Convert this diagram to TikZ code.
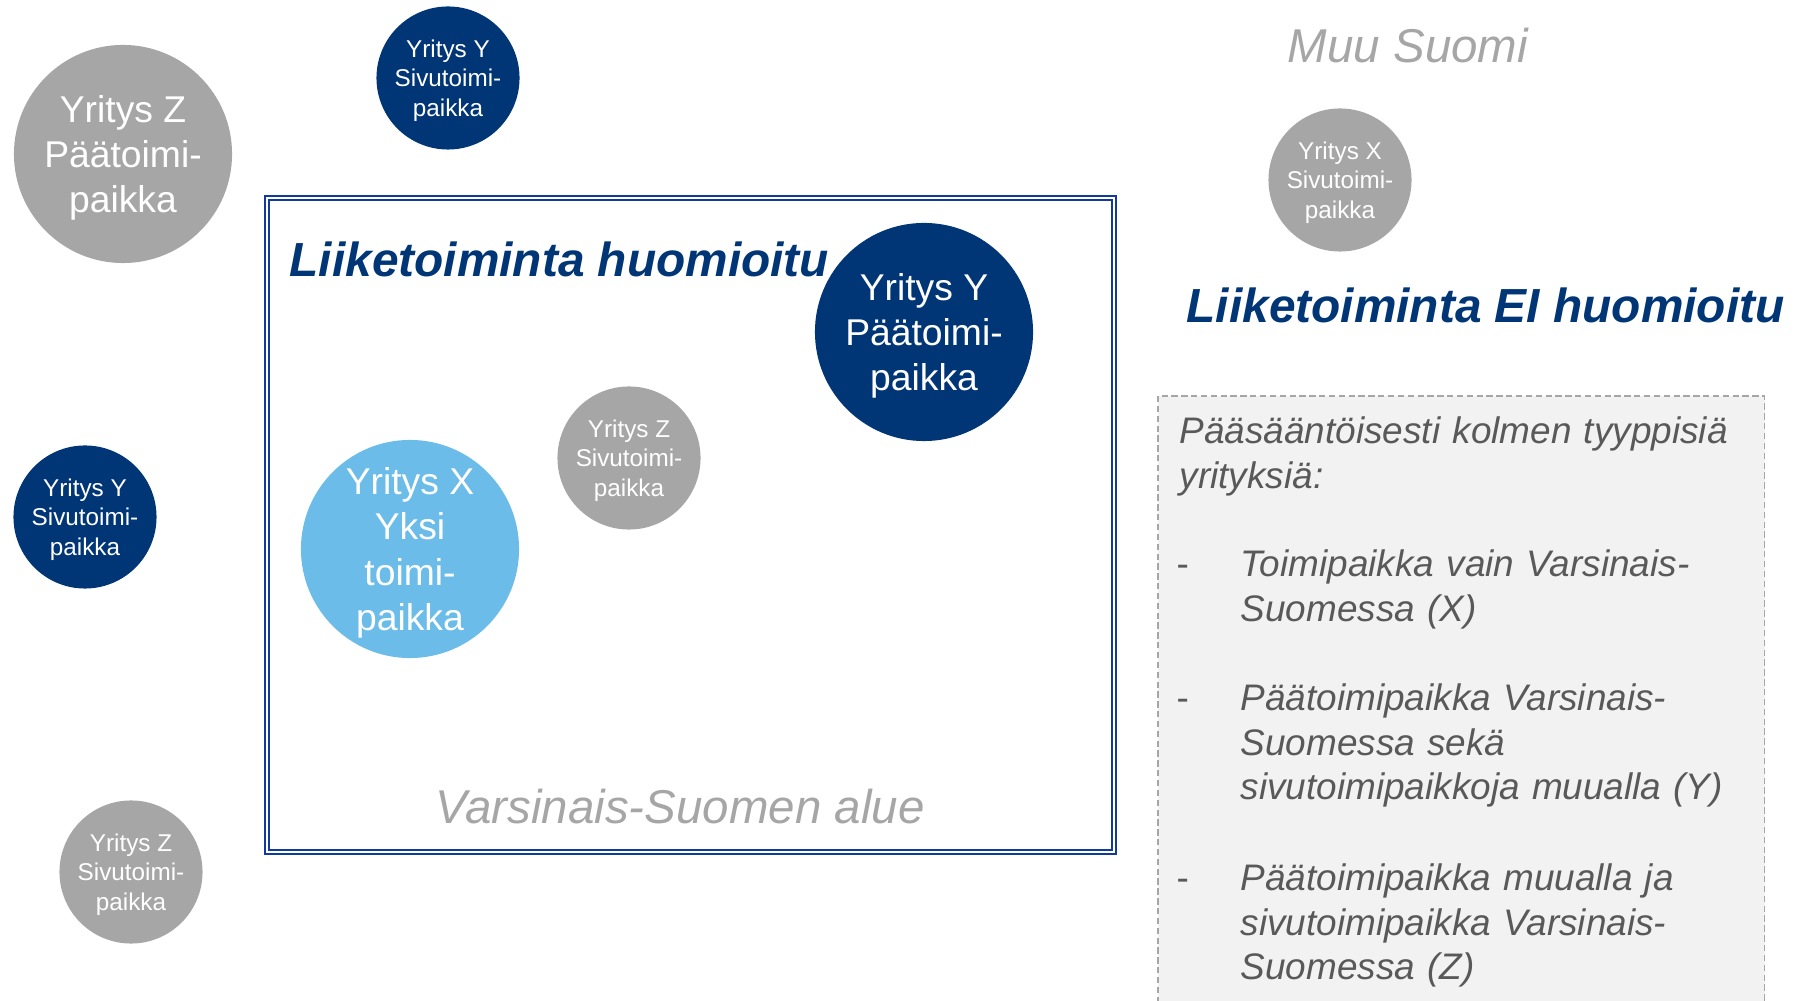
\documentclass[tikz,border=0pt]{standalone}
\usepackage{fontspec}
\setmainfont{Liberation Sans}

\begin{document}
\begin{tikzpicture}[x=0.01cm,y=-0.01cm,
    bigspot/.style={shape=circle,minimum size=2.18cm,inner sep=0pt,align=center,text depth=0pt,text=white,font=\fontsize{10.6}{12.8}\selectfont},
    smallspot/.style={shape=circle,minimum size=1.43cm,inner sep=0pt,align=center,text depth=0pt,text=white,font=\fontsize{6.9}{8.4}\selectfont},
    headline/.style={anchor=base west,inner sep=0pt,text=vs_navy,font=\fontsize{13.6}{16}\selectfont\bfseries\itshape},
    regionlabel/.style={anchor=base,inner sep=0pt,text=vs_grey,font=\fontsize{13.5}{16}\selectfont\itshape},
    notetext/.style={anchor=base west,inner sep=0pt,align=left,text width=5.9cm,text=vs_notetext,font=\fontsize{10.5}{12.6}\selectfont\itshape},
    notedash/.style={anchor=base west,inner sep=0pt,text=vs_notetext,font=\fontsize{10.5}{12.6}\selectfont}]
    \definecolor{vs_navy}{RGB}{0,53,118}
    \definecolor{vs_light}{RGB}{108,188,234}
    \definecolor{vs_grey}{RGB}{166,166,166}
    \definecolor{vs_frame}{RGB}{16,58,160}
    \definecolor{vs_note}{RGB}{242,242,242}
    \definecolor{vs_notetext}{RGB}{89,89,89}
    \useasboundingbox (0,0) rectangle (1800,1001);
    \clip (0,0) rectangle (1800,1001);

    % the region of Varsinais-Suomi
    \node[shape=rectangle,draw=vs_frame,line width=0.5pt,double=white,double distance=0.65pt,minimum width=8.465cm,minimum height=6.535cm] (area) at (690.25,525.25) {};
    \node[headline] (inTitle) at (289,277) {Liiketoiminta huomioitu};
    \node[regionlabel] (areaName) at (680,824) {Varsinais-Suomen alue};

    % rest of Finland
    \node[regionlabel] (restName) at (1408,63) {Muu Suomi};
    \node[headline] (outTitle) at (1186,323) {Liiketoiminta EI huomioitu};

    % companies
    \node[bigspot,fill=vs_grey]    (zMain)     at (123,154)  {Yritys Z\\Päätoimi-\\paikka};
    \node[smallspot,fill=vs_navy]  (ySideTop)  at (448,78)   {Yritys Y\\Sivutoimi-\\paikka};
    \node[smallspot,fill=vs_grey]  (xSide)     at (1340,180) {Yritys X\\Sivutoimi-\\paikka};
    \node[bigspot,fill=vs_navy]    (yMain)     at (924,332)  {Yritys Y\\Päätoimi-\\paikka};
    \node[smallspot,fill=vs_grey]  (zSideIn)   at (629,458)  {Yritys Z\\Sivutoimi-\\paikka};
    \node[bigspot,fill=vs_light]   (xOnly)     at (410,549)  {Yritys X\\Yksi\\toimi-\\paikka};
    \node[smallspot,fill=vs_navy]  (ySideLeft) at (85,517)   {Yritys Y\\Sivutoimi-\\paikka};
    \node[smallspot,fill=vs_grey]  (zSideLow)  at (131,872)  {Yritys Z\\Sivutoimi-\\paikka};

    % explanation box
    \draw[fill=vs_note,draw=vs_grey,line width=0.35pt,dash pattern=on 1.8pt off 1pt] (1158,396) rectangle (1764.5,1040);
    \node[notetext] (noteHead) at (1179,444) {Pääsääntöisesti kolmen tyyppisiä\\yrityksiä:};
    \node[notedash] (dashA) at (1176,577) {-};
    \node[notetext,text width=5.3cm] (typeA) at (1240,577) {Toimipaikka vain Varsinais-\\Suomessa (X)};
    \node[notedash] (dashB) at (1176,711) {-};
    \node[notetext,text width=5.3cm] (typeB) at (1240,711) {Päätoimipaikka Varsinais-\\Suomessa sekä\\sivutoimipaikkoja muualla (Y)};
    \node[notedash] (dashC) at (1176,891) {-};
    \node[notetext,text width=5.3cm] (typeC) at (1240,891) {Päätoimipaikka muualla ja\\sivutoimipaikka Varsinais-\\Suomessa (Z)};
\end{tikzpicture}
\end{document}
